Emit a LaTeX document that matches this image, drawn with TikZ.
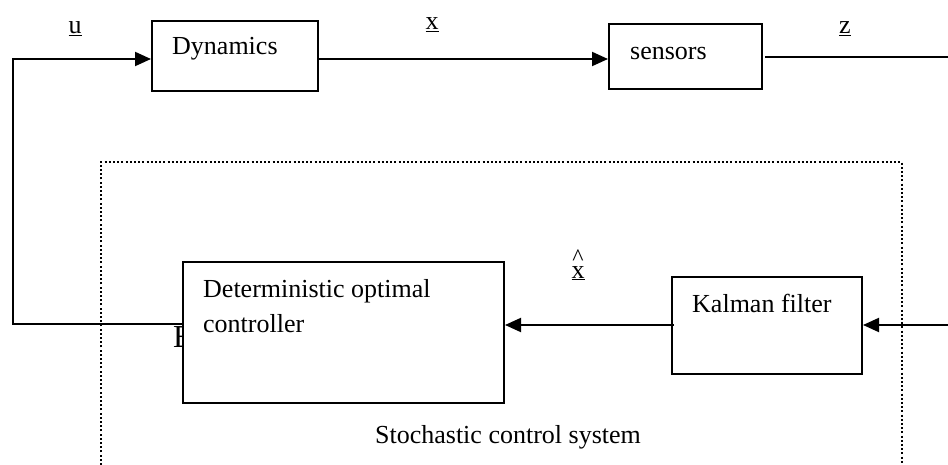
\documentclass[tikz,border=0pt]{standalone}
\usepackage{fontspec}
\setmainfont{Liberation Serif}
\usetikzlibrary{arrows.meta}

% x with a circumflex set well above it, underlined
\newcommand{\hatx}{\ooalign{\underline{x}\cr\hidewidth\raisebox{13pt}{\fontsize{24}{28}\selectfont\^{}}\hidewidth\cr}}

\begin{document}
\begin{tikzpicture}[
  x=1pt, y=-1pt,
  every node/.style={font=\fontsize{26}{34}\selectfont},
  blockbox/.style={draw, line width=2pt, fill=white, inner sep=0pt},
  txt/.style={inner sep=0pt, anchor=base west},
  sig/.style={inner sep=0pt, anchor=base},
  wire/.style={line width=2pt},
  thinwire/.style={line width=1.4pt},
  arr/.style={wire, -{Triangle[length=16pt, width=14pt]}},
  frame/.style={line width=2pt, dash pattern=on 2pt off 2.2pt}
]
\useasboundingbox (0,0) rectangle (948,465);

% stochastic control system frame (open at the bottom)
\draw[frame] (101,465) -- (101,162) -- (902,162) -- (902,465);

% stray glyph lying behind the controller block
\node[inner sep=0pt, anchor=base west, font=\fontsize{32}{36}\selectfont] (stray) at (173,347) {E};

% blocks
\node[blockbox, minimum width=166pt, minimum height=70pt] (dyn) at (235,56) {};
\node[blockbox, minimum width=153pt, minimum height=65pt] (sen) at (685.5,56.5) {};
\node[blockbox, minimum width=321pt, minimum height=141pt] (ctrl) at (343.5,332.5) {};
\node[blockbox, minimum width=190pt, minimum height=97pt] (kal) at (767,325.5) {};

% block texts
\node[txt] (dyntxt) at (172,55) {Dynamics};
\node[txt] (sentxt) at (630,60) {sensors};
\node[txt] (ctrltxt1) at (203,297) {Deterministic optimal};
\node[txt] (ctrltxt2) at (203,332) {controller};
\node[txt] (kaltxt) at (692,312) {Kalman filter};
\node[sig] (systxt) at (508,443) {Stochastic control system};

% signal labels
\node[sig] (ulab) at (75,34) {\underline{u}};
\node[sig] (xlab) at (432,30) {\underline{x}};
\node[sig] (zlab) at (845,34) {\underline{z}};
\node[sig] (xhlab) at (578,278) {\hatx};

% connection points
\coordinate (fbL) at (13,324);
\coordinate (fbT) at (13,59);
\coordinate (zR) at (948,57);
\coordinate (kR) at (948,325);

% connectors
\draw[arr] (ctrl.west |- fbL) -- (fbL) -- (fbT) -- (dyn.west |- fbT);
\draw[arr] (dyn.east |- fbT) -- (sen.west |- fbT);
\draw[thinwire] ([xshift=2pt]sen.east |- zR) -- (zR);
\draw[arr] (kR) -- (kal.east |- kR);
\draw[arr] ([xshift=3pt]kal.west |- kR) -- (ctrl.east |- kR);
\end{tikzpicture}
\end{document}
